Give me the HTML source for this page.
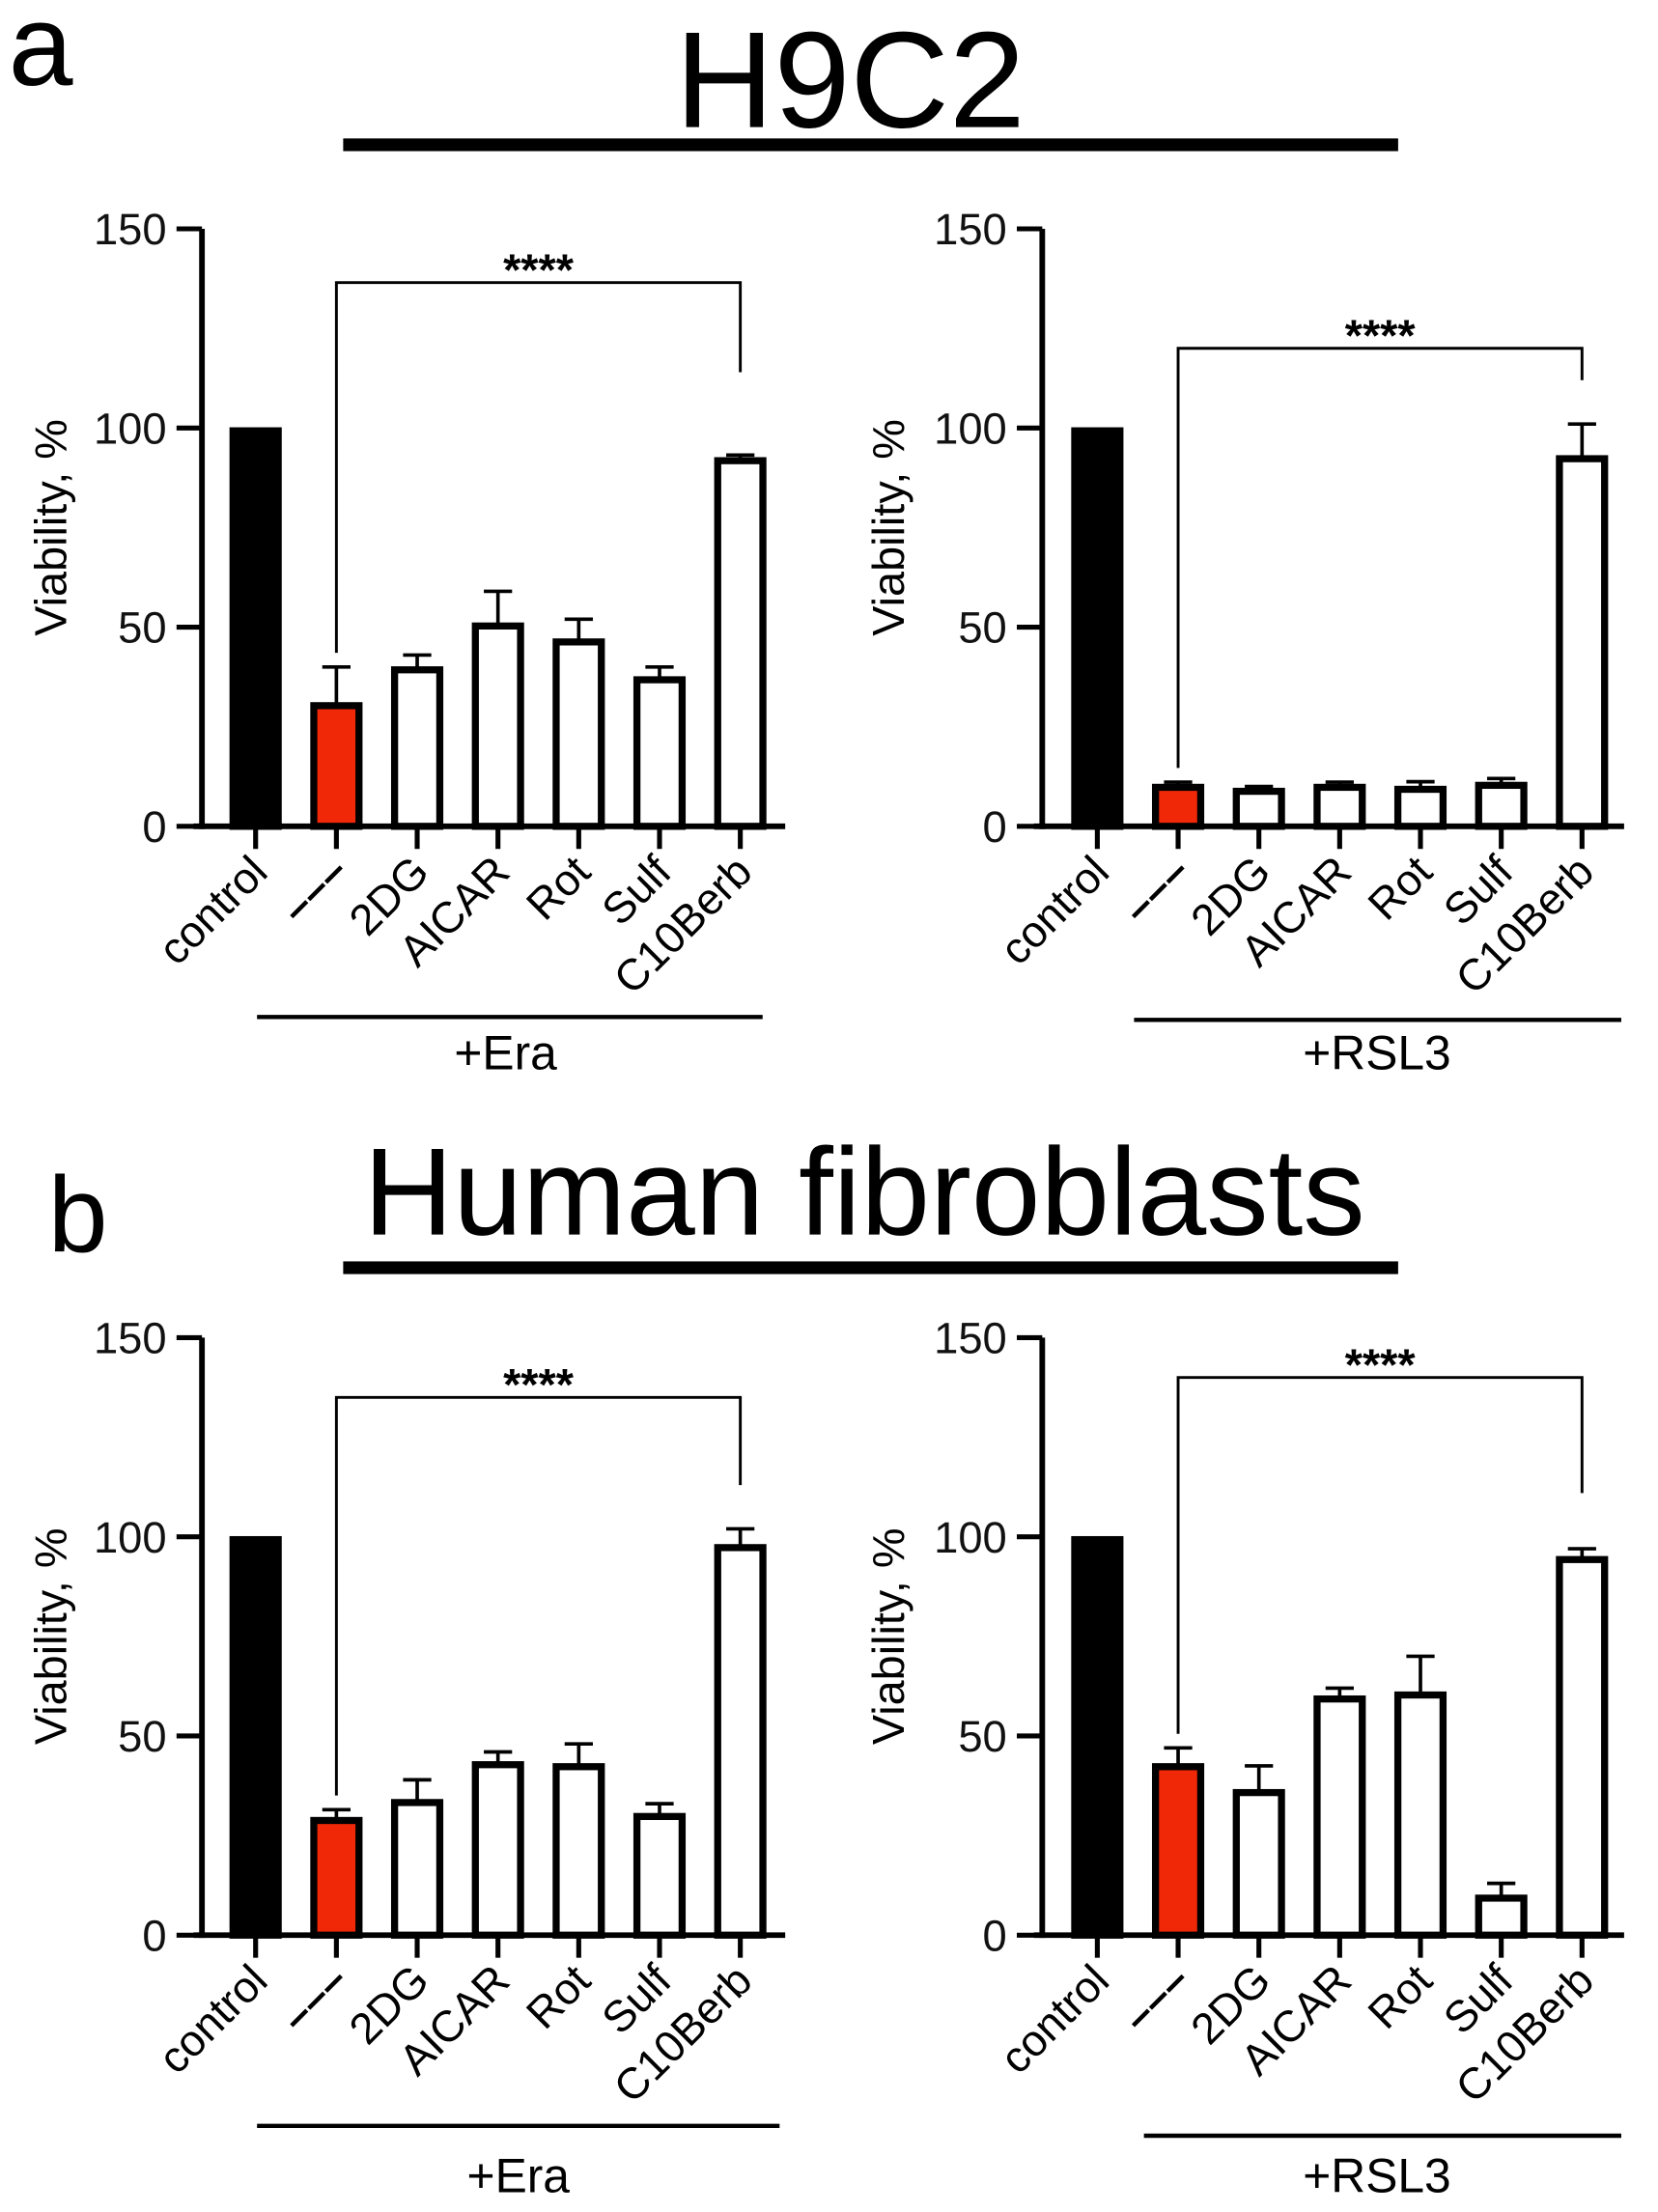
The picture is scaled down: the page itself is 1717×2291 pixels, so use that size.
<!DOCTYPE html>
<html><head><meta charset="utf-8"><style>
html,body{margin:0;padding:0;background:#fff;}
svg{display:block;font-family:"Liberation Sans",Arial,sans-serif;}
</style></head><body>
<svg id="fig" width="1717" height="2291" viewBox="0 0 1174 1566" preserveAspectRatio="none" xmlns="http://www.w3.org/2000/svg">
<text x="6" y="60" font-size="82">a</text>
<text x="602" y="90" font-size="97" text-anchor="middle">H9C2</text>
<rect x="243" y="98" width="747" height="9" fill="#000"/>
<text x="34" y="886" font-size="76">b</text>
<text x="612" y="874" font-size="88" text-anchor="middle">Human fibroblasts</text>
<rect x="243" y="893" width="747" height="9" fill="#000"/>
<g id="charts"></g>
</svg>
<script>
const categories = ["control","---","2DG","AICAR","Rot","Sulf","C10Berb"];
const yTicks = [0,50,100,150];
const aEraValues = [100,31,40,51,47,37.5,92.5];
const aEraErrors = [0,9,3,8,5,2.5,0.7];
const aRslValues = [100,10.5,9.5,10.5,10,11,93];
const aRslErrors = [0,0.6,0.5,0.6,1.2,1,8];
const bEraValues = [100,29.5,34,43.5,43,30.5,98];
const bEraErrors = [0,2,5,2.5,5,2.5,4];
const bRslValues = [100,43,36.5,60,61,10,95];
const bRslErrors = [0,4,6,2,9,3,2];
const treatments = ["+Era","+RSL3","+Era","+RSL3"];
const significance = ["****","****","****","****"];
const bracketTops = [136.5,120,135,140];
const bracketRightEnds = [114,112,113,111];

const NS="http://www.w3.org/2000/svg";
const root=document.getElementById('charts');
function mk(tag,attrs,parent){const e=document.createElementNS(NS,tag);for(const k in attrs)e.setAttribute(k,attrs[k]);(parent||root).appendChild(e);return e;}

const panels=[
 {ax:143,y0:585,vals:aEraValues,errs:aEraErrors,start:181,step:57.2,axEnd:556,ul:[182,540,720],tt:[358,757],name:'a-era',yt:107},
 {ax:738,y0:585,vals:aRslValues,errs:aRslErrors,start:777,step:57.2,axEnd:1150,ul:[803,1148,722],tt:[975,757],name:'a-rsl3',yt:109},
 {ax:143,y0:1370,vals:bEraValues,errs:bEraErrors,start:181,step:57.2,axEnd:556,ul:[182,552,1505],tt:[367,1552],name:'b-era',yt:107},
 {ax:738,y0:1370,vals:bRslValues,errs:bRslErrors,start:777,step:57.2,axEnd:1150,ul:[810,1148,1512],tt:[975,1552],name:'b-rsl3',yt:109}
];
panels.forEach((p,pi)=>{
 const g=mk('g',{});
 
 
 const yS=v=>p.y0-v*(423/150);
 const xS=i=>p.start+i*p.step;
 const ya=mk('line',{x1:p.ax,y1:yS(150),x2:p.ax,y2:p.y0+2,stroke:'#000','stroke-width':4},g);
 
 
 yTicks.forEach(t=>{
  mk('line',{x1:p.ax-18,y1:yS(t),x2:p.ax,y2:yS(t),stroke:'#000','stroke-width':3.5},g);
  const tl=mk('text',{x:p.ax-25,y:yS(t)+11,'font-size':31,'text-anchor':'end',fill:'#111'},g);
  tl.textContent=t;
  
  
 });
 const yl=mk('text',{x:0,y:0,'font-size':32,'text-anchor':'middle',transform:`translate(${p.ax-p.yt+11},${yS(75)}) rotate(-90)`},g);
 yl.textContent='Viability, %';
 
 
 const xa=mk('line',{x1:p.ax-6,y1:p.y0,x2:p.axEnd,y2:p.y0,stroke:'#000','stroke-width':4},g);
 
 
 const bw=36;
 p.vals.forEach((v,i)=>{
  const cx=xS(i);
  mk('line',{x1:cx,y1:p.y0,x2:cx,y2:p.y0+16,stroke:'#000','stroke-width':3.5},g);
  if(p.errs[i]>0){
   mk('line',{x1:cx,y1:yS(v),x2:cx,y2:yS(v+p.errs[i]),stroke:'#000','stroke-width':2.5},g);
   mk('line',{x1:cx-10,y1:yS(v+p.errs[i]),x2:cx+10,y2:yS(v+p.errs[i]),stroke:'#000','stroke-width':2.5},g);
  }
  const fill=i===0?'#000':(i===1?'#f02808':'#fff');
  const r=mk('rect',{x:cx-bw/2+2,y:yS(v)+2,width:bw-4,height:p.y0-yS(v)-2,fill:fill,stroke:'#000','stroke-width':5},g);
  
  
  const lb=mk('text',{x:0,y:0,'font-size':31,'text-anchor':'end',transform:`translate(${cx+10},${p.y0+34}) rotate(-45)`},g);
  lb.textContent=categories[i]==='---'?'\u2013\u2013\u2013':categories[i];
  if(categories[i]==='---'){lb.setAttribute('font-weight','bold');}
  
  
 });
 const x1=xS(1),x2=xS(6);
 const yl1=yS(p.vals[1]+p.errs[1])-10;
 const br=mk('path',{d:`M${x1},${yl1} V${yS(bracketTops[pi])} H${x2} V${yS(bracketRightEnds[pi])}`,fill:'none',stroke:'#000','stroke-width':2},g);
 
 
 const st=mk('text',{x:(x1+x2)/2,y:yS(bracketTops[pi])+2,'font-size':32,'font-weight':'bold','text-anchor':'middle'},g);
 st.textContent=significance[pi];
 
 
 const ul=mk('line',{x1:p.ul[0],y1:p.ul[2],x2:p.ul[1],y2:p.ul[2],stroke:'#000','stroke-width':3},g);
 
 
 const tt=mk('text',{x:p.tt[0],y:p.tt[1],'font-size':34,'text-anchor':'middle'},g);
 tt.textContent=treatments[pi];
 
 
});
</script>
</body></html>
